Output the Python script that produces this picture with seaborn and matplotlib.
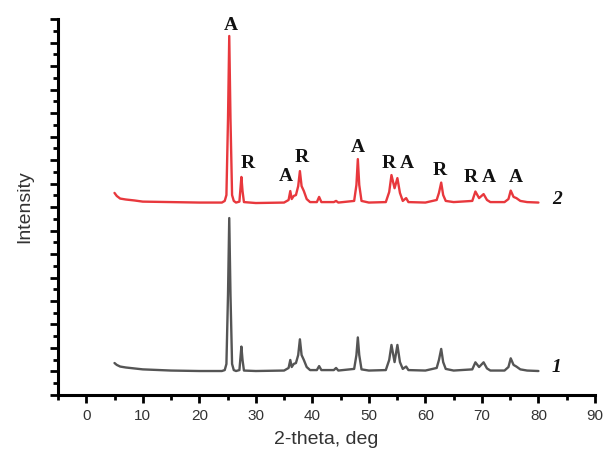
import matplotlib
matplotlib.use("Agg")
import matplotlib.pyplot as plt
from matplotlib.ticker import MultipleLocator
import seaborn as sns
import pandas as pd

# ---- data (arbitrary intensity units) ----
two_theta = [5.0, 5.4, 6.0, 7.0, 8.5, 10, 15, 20, 24.0, 24.5, 24.8, 25.08, 25.3, 25.52,
             25.8, 26.1, 26.5, 27.1, 27.25, 27.45, 27.65, 27.9, 30, 35, 35.8, 36.1,
             36.35, 36.7, 37.1, 37.5, 37.8, 38.1, 38.5, 39, 39.6, 40.8, 41.2, 41.6,
             43.8, 44.2, 44.6, 47.4, 47.8, 48.05, 48.3, 48.7, 50, 53.0, 53.6, 54.0,
             54.55, 55.05, 55.5, 56.0, 56.6, 57.0, 60, 62.0, 62.4, 62.8, 63.15, 63.6,
             65, 68.3, 68.85, 69.5, 70.3, 70.9, 71.5, 74.0, 74.7, 75.1, 75.6, 76.1,
             76.8, 78, 80]

intensity_1 = [1.36, 1.28, 1.21, 1.17, 1.13, 1.09, 1.04, 1.02, 1.02, 1.06, 1.32, 4.26, 7.53, 4.26,
               1.32, 1.06, 1.02, 1.06, 1.49, 2.06, 1.49, 1.04, 1.02, 1.04, 1.15, 1.49,
               1.19, 1.32, 1.36, 1.70, 2.37, 1.70, 1.49, 1.19, 1.06, 1.06, 1.23, 1.06,
               1.06, 1.15, 1.04, 1.11, 1.70, 2.45, 1.70, 1.09, 1.04, 1.06, 1.49, 2.13,
               1.40, 2.13, 1.40, 1.11, 1.21, 1.06, 1.04, 1.15, 1.49, 1.96, 1.40, 1.11,
               1.04, 1.09, 1.39, 1.19, 1.39, 1.13, 1.04, 1.04, 1.19, 1.56, 1.28, 1.21,
               1.09, 1.04, 1.02]

intensity_2 = [8.60, 8.47, 8.36, 8.32, 8.28, 8.23, 8.21, 8.19, 8.19, 8.26, 8.51, 11.74, 15.28, 11.74,
               8.51, 8.26, 8.19, 8.23, 8.68, 9.28, 8.68, 8.21, 8.17, 8.19, 8.30, 8.68,
               8.34, 8.47, 8.51, 8.89, 9.53, 8.89, 8.68, 8.34, 8.21, 8.21, 8.43, 8.21,
               8.21, 8.26, 8.19, 8.26, 8.94, 10.04, 8.94, 8.26, 8.19, 8.21, 8.64, 9.36,
               8.80, 9.23, 8.60, 8.26, 8.38, 8.21, 8.19, 8.30, 8.60, 9.04, 8.51, 8.26,
               8.21, 8.26, 8.66, 8.38, 8.55, 8.30, 8.21, 8.21, 8.34, 8.70, 8.43, 8.38,
               8.26, 8.21, 8.19]

peak_labels = ["A", "R", "A", "R", "A", "R", "A", "R", "R", "A", "A"]
peak_label_x = [25.6, 28.5, 35.4, 38.2, 48.1, 53.6, 56.8, 62.6, 68.0, 71.3, 76.0]
peak_label_y = [15.74, 9.87, 9.30, 10.09, 10.55, 9.87, 9.87, 9.55, 9.26, 9.26, 9.26]

curve_names = ["1", "2"]
curve_label_x = [83.1, 83.3]
curve_label_y = [1.19, 8.30]

x_ticks = [0, 10, 20, 30, 40, 50, 60, 70, 80, 90]
x_tick_labels = ["0", "10", "20", "30", "40", "50", "60", "70", "80", "90"]

# ---- build table ----
df = pd.DataFrame({
    "two_theta": two_theta * 2,
    "intensity": intensity_1 + intensity_2,
    "curve": ["1"] * len(two_theta) + ["2"] * len(two_theta),
})

sns.set_style("ticks")
plt.rcParams["font.family"] = ["Liberation Sans", "DejaVu Sans"]

fig = plt.figure(figsize=(6.04, 4.54), dpi=100)
ax = fig.add_axes([0.096, 0.130, 0.889, 0.828])

sns.lineplot(data=df, x="two_theta", y="intensity", hue="curve",
             palette={"1": "#555555", "2": "#e8383d"}, sort=False,
             estimator=None, linewidth=1.7, legend=False, ax=ax)

for lab, lx, ly in zip(peak_labels, peak_label_x, peak_label_y):
    ax.text(lx, ly, lab, ha="center", va="center", fontsize=14,
            fontweight="bold", family=["Liberation Serif", "DejaVu Serif"], color="#111111")
for lab, lx, ly in zip(curve_names, curve_label_x, curve_label_y):
    ax.text(lx, ly, lab, ha="center", va="center", fontsize=14,
            fontweight="bold", fontstyle="italic",
            family=["Liberation Serif", "DejaVu Serif"], color="#111111")

ax.set_xlim(-5, 90)
ax.set_ylim(0, 16)
ax.set_xticks(x_ticks)
ax.set_xticklabels(x_tick_labels)
ax.xaxis.set_minor_locator(MultipleLocator(5))
ax.yaxis.set_major_locator(MultipleLocator(1))
ax.yaxis.set_minor_locator(MultipleLocator(0.5))
ax.set_yticklabels([])

ax.tick_params(axis="both", which="major", direction="out", length=6, width=2,
               color="black", labelsize=11, labelcolor="#333333", pad=4)
ax.tick_params(axis="both", which="minor", direction="out", length=3.5, width=2,
               color="black")

sns.despine(ax=ax, top=True, right=True)
for side in ["left", "bottom"]:
    ax.spines[side].set_linewidth(2.2)
    ax.spines[side].set_color("black")

ax.set_xlabel("2-theta, deg", fontsize=14, color="#333333", labelpad=6)
ax.set_ylabel("Intensity", fontsize=14, color="#333333", labelpad=8)

fig.savefig("out.png", dpi=100)
